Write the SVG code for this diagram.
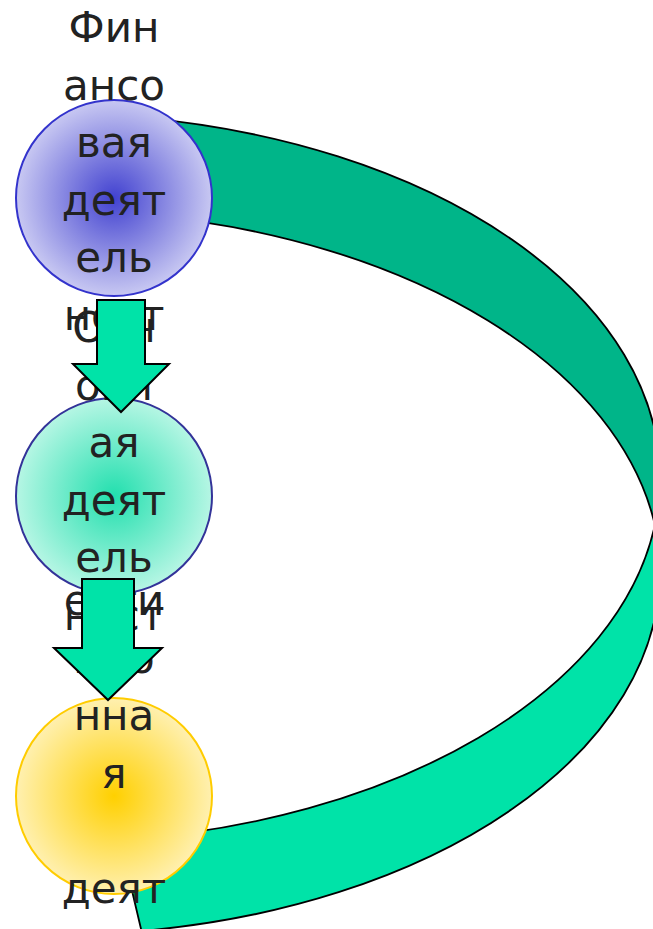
<svg xmlns="http://www.w3.org/2000/svg" width="653" height="929" viewBox="0 0 653 929">
  <style>
    .band { stroke: #000; stroke-width: 1.8; stroke-linejoin: round; }
    .back { fill: #00B589; }
    .front { fill: #00E3A8; }
    .down { fill: #00E3A8; stroke: #000; stroke-width: 2; stroke-linejoin: miter; }
    .lbl { font-family: "DejaVu Sans", Verdana, sans-serif; font-size: 42px; fill: #222; text-anchor: middle; }
  </style>
  <defs>
    <radialGradient id="gBlue" cx="50%" cy="50%" r="50%">
      <stop offset="0" stop-color="#4242D0"/>
      <stop offset="1" stop-color="#C8C8F2"/>
    </radialGradient>
    <radialGradient id="gTeal" cx="50%" cy="50%" r="50%">
      <stop offset="0" stop-color="#22DFAE"/>
      <stop offset="1" stop-color="#B6F6E4"/>
    </radialGradient>
    <radialGradient id="gGold" cx="50%" cy="50%" r="50%">
      <stop offset="0" stop-color="#FFD000"/>
      <stop offset="1" stop-color="#FFF0B0"/>
    </radialGradient>
  </defs>

  <!-- curved return band, drawn beneath the circles -->
  <g id="connectors-back">
    <path class="band back" d="M140,117.7 A606,364 0 0 1 660,478 A606,364 0 0 1 654.9,525 A606,364 0 0 0 150,215.6 Z"/>
    <path class="band front" d="M654.9,525 A606,364 0 0 1 120,839.8 L141.5,931 A606,364 0 0 0 660,572 A606,364 0 0 0 654.9,525 Z"/>
  </g>

  <g id="node-investment">
    <circle cx="114" cy="796" r="98" fill="url(#gGold)" stroke="#FFCC00" stroke-width="2"/>
    <text class="lbl" x="114" y="615">ести</text>
    <text class="lbl" x="114" y="672.5">цио</text>
    <text class="lbl" x="114" y="730">нна</text>
    <text class="lbl" x="114" y="787.5">я</text>
    <text class="lbl" x="114" y="902.5">деят</text>
  </g>

  <g id="node-operating">
    <circle cx="114" cy="496" r="98" fill="url(#gTeal)" stroke="#333399" stroke-width="2"/>
    <text class="lbl" x="114" y="342">Осн</text>
    <text class="lbl" x="114" y="399.5">овн</text>
    <text class="lbl" x="114" y="457">ая</text>
    <text class="lbl" x="114" y="514.5">деят</text>
    <text class="lbl" x="114" y="572">ель</text>
    <text class="lbl" x="114" y="629.5">ност</text>
  </g>

  <g id="node-financial">
    <circle cx="114" cy="198" r="98" fill="url(#gBlue)" stroke="#3333CC" stroke-width="2"/>
    <text class="lbl" x="114" y="42">Фин</text>
    <text class="lbl" x="114" y="99.5">ансо</text>
    <text class="lbl" x="114" y="157">вая</text>
    <text class="lbl" x="114" y="214.5">деят</text>
    <text class="lbl" x="114" y="272">ель</text>
    <text class="lbl" x="114" y="329.5">ност</text>
  </g>

  <!-- block arrows between the circles -->
  <g id="connectors-front">
    <path class="down" d="M97,300 H145 V364 H169 L121,412 L73,364 H97 Z"/>
    <path class="down" d="M82,579 H134 V648 H162 L108,700 L54,648 H82 Z"/>
  </g>
</svg>
